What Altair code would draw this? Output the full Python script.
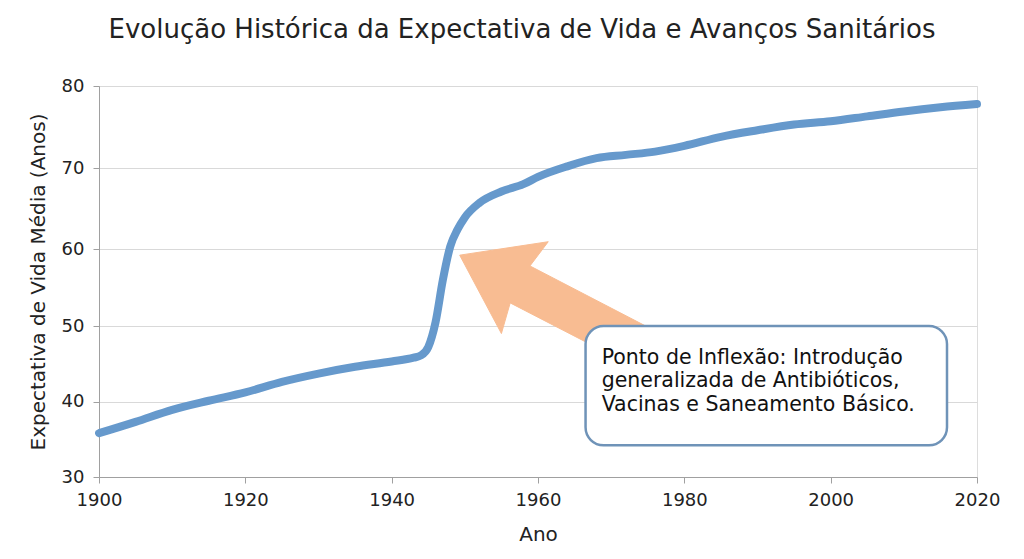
import altair as alt
import pandas as pd

# Life expectancy series
years = [1900, 1905, 1910, 1915, 1920, 1925, 1930, 1935, 1940, 1943, 1944, 1945,
         1946, 1947, 1948, 1949, 1950, 1952, 1955, 1958, 1960, 1964, 1968, 1972,
         1976, 1980, 1985, 1990, 1995, 2000, 2005, 2010, 2015, 2020]
life = [35.8, 37.3, 38.9, 40.1, 41.2, 42.6, 43.7, 44.6, 45.3, 45.8, 46.1, 47.2,
        50.5, 56.0, 60.3, 62.4, 63.9, 65.7, 67.1, 68.0, 68.9, 70.2, 71.2, 71.6,
        72.0, 72.7, 73.8, 74.6, 75.3, 75.7, 76.3, 76.9, 77.4, 77.8]

# Annotation arrow outline (data units)
arrow_x = [1949.3, 1961.4, 1958.9, 1976.7, 1973.9, 1956.2, 1955.0]
arrow_y = [59.2, 60.9, 57.8, 49.0, 44.2, 53.0, 49.0]

# Annotation box extent (data units)
box_x = [1966.5, 2015.9]
box_y = [50.0, 34.2]
note_text = "Ponto de Inflexão: Introdução\ngeneralizada de Antibióticos,\nVacinas e Saneamento Básico."
note_x = 1968.7
note_y = 45.0

x_ticks = [1900, 1920, 1940, 1960, 1980, 2000, 2020]
y_ticks = [30, 40, 50, 60, 70, 80]

FONT = "DejaVu Sans"

df = pd.DataFrame({"Ano": years, "Vida": life})
arrow_df = pd.DataFrame({"x": arrow_x, "y": arrow_y, "o": list(range(len(arrow_x)))})
box_df = pd.DataFrame({"x": [box_x[0]], "x2": [box_x[1]], "y": [box_y[0]], "y2": [box_y[1]]})
text_df = pd.DataFrame({"x": [note_x], "y": [note_y], "t": [note_text]})

xscale = alt.Scale(domain=[1900, 2020], nice=False, zero=False)
yscale = alt.Scale(domain=[30, 40, 50, 60, 70, 80], range=[391, 315.5, 240, 163, 82, 0],
                   nice=False, zero=False)

xaxis = alt.Axis(values=x_ticks, format="d", title="Ano", grid=False, labelFlush=False,
                 labelFontSize=18, titleFontSize=20, labelColor="#222222", titleColor="#222222",
                 labelFont=FONT, titleFont=FONT, domainColor="#a0a0a0", tickColor="#a0a0a0",
                 tickSize=6, labelPadding=8, titlePadding=15, titleFontWeight="normal")
yaxis = alt.Axis(values=y_ticks, title="Expectativa de Vida Média (Anos)", grid=True,
                 gridColor="#d9d9d9", gridWidth=1, labelFlush=False,
                 labelFontSize=18, titleFontSize=20, labelColor="#222222", titleColor="#222222",
                 labelFont=FONT, titleFont=FONT, domainColor="#a0a0a0", tickColor="#a0a0a0",
                 tickSize=6, labelPadding=9, titlePadding=13, titleFontWeight="normal")

line = alt.Chart(df).mark_line(color="#6699CC", strokeWidth=8, interpolate="monotone",
                               strokeCap="round").encode(
    x=alt.X("Ano:Q", scale=xscale, axis=xaxis),
    y=alt.Y("Vida:Q", scale=yscale, axis=yaxis),
)

arrow = alt.Chart(arrow_df).mark_line(fill="#F8BC92", stroke="#F8BC92", strokeWidth=1,
                                      interpolate="linear-closed").encode(
    x=alt.X("x:Q", scale=xscale),
    y=alt.Y("y:Q", scale=yscale),
    order="o:Q",
)

box = alt.Chart(box_df).mark_rect(fill="white", stroke="#6F93B8", strokeWidth=2.5,
                                  cornerRadius=18).encode(
    x=alt.X("x:Q", scale=xscale), x2="x2:Q",
    y=alt.Y("y:Q", scale=yscale), y2="y2:Q",
)

note = alt.Chart(text_df).mark_text(align="left", baseline="alphabetic", lineBreak="\n",
                                    fontSize=20.5, lineHeight=23.5, font=FONT,
                                    color="#111111").encode(
    x=alt.X("x:Q", scale=xscale),
    y=alt.Y("y:Q", scale=yscale),
    text="t:N",
)

chart = alt.layer(line, arrow, box, note).properties(
    width=878, height=391,
    title=alt.TitleParams("Evolução Histórica da Expectativa de Vida e Avanços Sanitários",
                          fontSize=26, font=FONT, fontWeight="normal", color="#222222",
                          anchor="middle", offset=34, dx=-16),
    autosize=alt.AutoSizeParams(type="none"),
    padding={"left": 91, "top": 78, "right": 30, "bottom": 74},
).configure_view(stroke=None).configure(background="white")

chart.save("out.html", embed_options={"renderer": "svg", "actions": False})
